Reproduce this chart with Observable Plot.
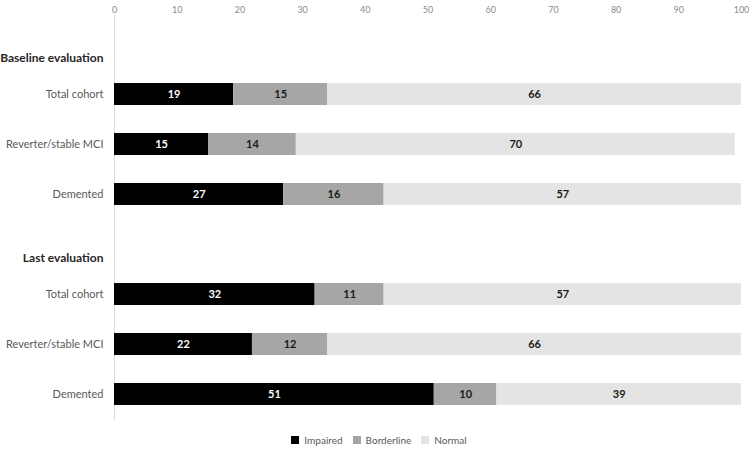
<!DOCTYPE html>
<html><head><meta charset="utf-8">
<script src="https://cdn.jsdelivr.net/npm/d3@7"></script>
<script src="https://cdn.jsdelivr.net/npm/@observablehq/plot@0.6"></script>
<style>
body{margin:0;background:#fff;font-family:Lato, "Open Sans", sans-serif}
#legend{display:flex;justify-content:center;margin-top:-2px;padding-left:18px}
</style>
</head><body><div id="chart"></div><div id="legend"></div><script>
const groups = ["Baseline evaluation", "Last evaluation"];
const cohorts = ["Total cohort", "Reverter/stable MCI", "Demented"];
const statuses = ["Impaired", "Borderline", "Normal"];
// order: Baseline (Total, Reverter, Demented), Last (Total, Reverter, Demented)
const impaired   = [19, 15, 27, 32, 22, 51];
const borderline = [15, 14, 16, 11, 12, 10];
const normal     = [66, 70, 57, 57, 66, 39];
const xTicks = [0, 10, 20, 30, 40, 50, 60, 70, 80, 90, 100];
const colors = ["#000000", "#a6a6a6", "#e4e4e4"];

const rows = [];
const domain = [];
groups.forEach((g, gi) => {
  domain.push(g);
  cohorts.forEach((c, ci) => {
    const key = g + "|" + c;
    domain.push(key);
    const i = gi * 3 + ci;
    [impaired[i], borderline[i], normal[i]].forEach((v, si) => {
      rows.push({row: key, status: statuses[si], value: v});
    });
  });
});

const chart = Plot.plot({
  width: 750,
  height: 425,
  marginLeft: 114,
  marginRight: 9,
  marginTop: 15,
  marginBottom: 5,
  style: {fontFamily: "Lato, 'Open Sans', sans-serif", background: "#fff"},
  x: {domain: [0, 100], axis: null},
  y: {type: "band", domain, range: [1.5, 435.5], padding: 0.57, axis: null},
  color: {domain: statuses, range: colors},
  marks: [
    Plot.ruleX([0], {stroke: "#d9d9d9"}),
    Plot.barX(rows, Plot.stackX({x: "value", y: "row", fill: "status", order: statuses})),
    Plot.text(rows, Plot.stackX({x: "value", y: "row", text: "value", order: statuses, z: "status",
      fill: d => d.status === "Impaired" ? "#ffffff" : "#1a1a1a", fontWeight: "bold", fontSize: 11})),
    Plot.axisX({anchor: "top", ticks: xTicks, tickSize: 0, tickPadding: 3, fontSize: 9, color: "#8c8c8c", label: null}),
    Plot.axisY({tickSize: 0, tickPadding: 11, fontSize: 11, color: "#595959", label: null,
      tickFormat: d => d.includes("|") ? d.split("|")[1] : ""}),
    Plot.text(groups, {x: () => 0, y: d => d, text: d => d, textAnchor: "end", dx: -11, dy: 14,
      fontWeight: "bold", fontSize: 12, fill: "#262626"})
  ]
});
document.getElementById("chart").appendChild(chart);

const legend = Plot.legend({
  color: {domain: statuses, range: colors},
  legend: "swatches",
  swatchSize: 8,
  style: {fontFamily: "Lato, 'Open Sans', sans-serif", fontSize: "10px", color: "#595959"}
});
document.getElementById("legend").appendChild(legend);
</script></body></html>
